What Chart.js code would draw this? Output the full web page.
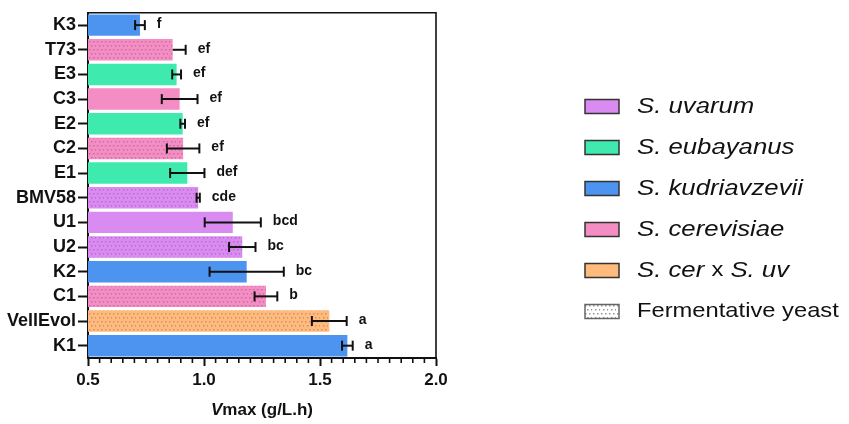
<!DOCTYPE html>
<html><head><meta charset="utf-8">
<script src="https://cdn.jsdelivr.net/npm/chart.js@4"></script>
<style>html,body{margin:0;padding:0;background:#fff}#wrap{width:849px;height:424px}</style>
</head><body><div id="wrap"><canvas id="c" width="849" height="424"></canvas></div>
<script>
const strains = ['K3','T73','E3','C3','E2','C2','E1','BMV58','U1','U2','K2','C1','VellEvol','K1'];
const vmax = [0.724,0.865,0.882,0.895,0.908,0.910,0.928,0.975,1.124,1.165,1.184,1.267,1.540,1.618];
const errMinus = [0.021,0.0,0.019,0.077,0.010,0.070,0.074,0.007,0.121,0.057,0.160,0.049,0.075,0.023];
const errPlus = [0.021,0.056,0.019,0.077,0.010,0.070,0.074,0.007,0.121,0.057,0.160,0.049,0.075,0.023];
const letters = ['f','ef','ef','ef','ef','ef','def','cde','bcd','bc','bc','b','a','a'];
const species = ['kud','cer','eub','cer','eub','cer','eub','uva','uva','uva','kud','cer','hyb','kud'];
const fermentative = [false,true,false,false,false,true,false,true,false,true,false,true,true,false];
const xTickValues = [0.5,1.0,1.5,2.0];
const speciesKeys = ['uva','eub','kud','cer','hyb'];
const speciesLegend = [
  [['S. uvarum',true]],
  [['S. eubayanus',true]],
  [['S. kudriavzevii',true]],
  [['S. cerevisiae',true]],
  [['S. cer ',true],['x',false],[' S. uv',true]]
];
const fermentLegend = 'Fermentative yeast';
const axisTitleItalic = 'V';
const axisTitleRest = 'max (g/L.h)';

const colors = {uva:'#DA8BF2', eub:'#3FEAAE', kud:'#4D94F1', cer:'#F48DC3', hyb:'#FFBB7B'};
const FONT = '"Liberation Sans", Arial, sans-serif';

function makePattern(base, dot){
  const pc = document.createElement('canvas');
  pc.width = 8; pc.height = 8;
  const p = pc.getContext('2d');
  p.fillStyle = base; p.fillRect(0,0,8,8);
  p.fillStyle = dot;
  p.fillRect(1,1,1.5,1.5); p.fillRect(5,1,1.5,1.5);
  p.fillRect(3,5,1.5,1.5); p.fillRect(7,5,1,1.5);
  return document.getElementById('c').getContext('2d').createPattern(pc,'repeat');
}
const dotColor = 'rgba(90,30,80,0.28)';
const barFill = species.map((s,i)=> fermentative[i] ? makePattern(colors[s], dotColor) : colors[s]);

const extras = {
  id:'extras',
  afterDatasetsDraw(chart){
    const c = chart.ctx, xs = chart.scales.x, meta = chart.getDatasetMeta(0);
    c.save();
    c.strokeStyle = '#111'; c.lineWidth = 2;
    meta.data.forEach((bar,i)=>{
      const y = bar.y;
      const x1 = xs.getPixelForValue(vmax[i]-errMinus[i]);
      const x2 = xs.getPixelForValue(vmax[i]+errPlus[i]);
      c.beginPath(); c.moveTo(x1,y); c.lineTo(x2,y); c.stroke();
      c.beginPath(); c.moveTo(x2,y-5); c.lineTo(x2,y+5); c.stroke();
      if (errMinus[i] > 0){ c.beginPath(); c.moveTo(x1,y-5); c.lineTo(x1,y+5); c.stroke(); }
      c.fillStyle = '#111';
      c.font = 'bold 14px ' + FONT;
      c.textAlign = 'left'; c.textBaseline = 'middle';
      c.fillText(letters[i], x2 + 12, y - 1);
    });
    c.restore();
  },
  afterDraw(chart){
    const c = chart.ctx, a = chart.chartArea, xs = chart.scales.x;
    c.save();
    c.strokeStyle = '#111'; c.lineWidth = 1.6;
    c.beginPath(); c.moveTo(a.left, a.top); c.lineTo(a.right, a.top); c.lineTo(a.right, a.bottom); c.stroke();
    for (let k = 10; k <= 40; k++){
      if (k % 10 === 0) continue;
      const x = xs.getPixelForValue(k*0.05);
      c.beginPath(); c.moveTo(x, a.bottom); c.lineTo(x, a.bottom+5); c.stroke();
    }
    c.fillStyle = '#111'; c.textBaseline = 'middle';
    c.font = 'italic bold 17px ' + FONT;
    const w1 = c.measureText(axisTitleItalic).width;
    c.font = 'bold 17px ' + FONT;
    const w2 = c.measureText(axisTitleRest).width;
    const cx = (a.left + a.right)/2;
    let x = cx - (w1+w2)/2;
    c.font = 'italic bold 17px ' + FONT; c.textAlign='left';
    c.fillText(axisTitleItalic, x, 410);
    c.font = 'bold 17px ' + FONT;
    c.fillText(axisTitleRest, x + w1, 410);
    const boxX = 585, boxW = 34, boxH = 14, textX = 637, y0 = 106.5, dy = 41;
    const drawBox = (y, fill, stroke) => {
      c.fillStyle = fill; c.fillRect(boxX, y-boxH/2, boxW, boxH);
      c.strokeStyle = stroke; c.lineWidth = 1.5; c.strokeRect(boxX, y-boxH/2, boxW, boxH);
    };
    const drawText = (segs, y) => {
      let xx = textX;
      segs.forEach(([t,it])=>{
        const size = it ? 22 : 21, sx = it ? 1.17 : 1.13;
        c.save(); c.translate(xx, y); c.scale(sx, 1);
        c.font = (it?'italic ':'') + size + 'px ' + FONT;
        c.fillStyle = '#111'; c.textAlign='left'; c.textBaseline='middle';
        c.fillText(t, 0, 0);
        xx += c.measureText(t).width * sx;
        c.restore();
      });
    };
    speciesKeys.forEach((k,i)=>{
      const y = y0 + i*dy;
      drawBox(y, colors[k], '#333');
      drawText(speciesLegend[i], y);
    });
    const yf = y0 + 5*dy;
    drawBox(yf, makePattern('#ffffff','rgba(60,60,60,0.55)'), '#666');
    drawText([[fermentLegend,false]], yf);
    c.restore();
  }
};

new Chart(document.getElementById('c'), {
  type:'bar',
  data:{labels:strains, datasets:[{data:vmax, backgroundColor:barFill, borderWidth:0, barPercentage:0.87, categoryPercentage:1}]},
  options:{
    indexAxis:'y', responsive:false, animation:false,
    layout:{padding:{left:0,right:413,top:7,bottom:0}},
    plugins:{legend:{display:false}, tooltip:{enabled:false}},
    scales:{
      x:{type:'linear', min:0.5, max:2.0,
        afterBuildTicks:s=>{ s.ticks = xTickValues.map(v=>({value:v})); },
        ticks:{callback:v=>Number(v).toFixed(1), color:'#111', font:{family:FONT, size:17, weight:'bold'}, padding:4, maxRotation:0},
        grid:{drawOnChartArea:false, drawTicks:true, tickLength:8, tickWidth:2, tickColor:'#111'},
        border:{display:true, color:'#111', width:2},
        afterFit:s=>{ s.height = 66; }},
      y:{ticks:{color:'#111', font:{family:FONT, size:18, weight:'bold'}, padding:2},
        grid:{offset:false, drawOnChartArea:false, drawTicks:true, tickLength:10, tickWidth:2, tickColor:'#111'},
        border:{display:true, color:'#111', width:2},
        afterFit:s=>{ s.width = 88; }}
    }
  },
  plugins:[extras]
});
</script></body></html>
